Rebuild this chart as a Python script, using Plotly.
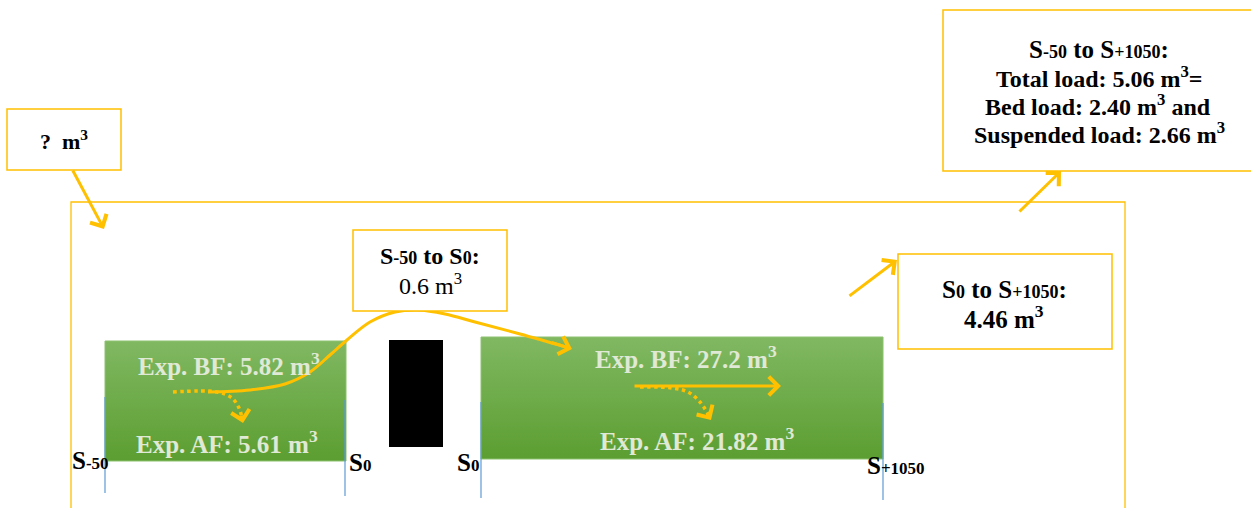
import plotly.graph_objects as go

# ---------------- data ----------------
station_names = ["-50", "0", "0", "+1050"]
reach_from_to = [("-50", "0"), ("0", "+1050")]
reach_loads = [0.6, 4.46]
exp_bf = [5.82, 27.2]
exp_af = [5.61, 21.82]
total_from_to = ("-50", "+1050")
total_load = 5.06
bed_load = 2.40
suspended_load = 2.66
unknown_label = "?"

# ---------------- styles / layout positions ----------------
ORANGE = "#FFC000"
GREEN_TOP = "#80b862"
GREEN_BOT = "#5c9e31"
EXP_TXT = "#e0e9d6"
BLUE = "#5b9bd5"
FONT = "Liberation Serif"
W, H = 1251, 508

reach_rects = [(105, 346, 341, 461), (481, 883, 337, 459)]
bf_pos = [(229, 364), (686, 357)]
af_pos = [(227, 442), (697, 439)]
station_pos = [(70, 460), (347, 462), (455, 462), (865, 465)]
station_lines = [(105, 397, 493), (345, 400, 496), (481, 402, 498), (883, 403, 500)]


def S(sub, size):
    return f'S<span style="font-size:{size}px">{sub}</span>'


def m3(size):
    return f'm<span style="font-size:{size}px"><sup>3</sup></span>'


fig = go.Figure()

# outer frame
fig.add_shape(type="path", path="M71,520 L71,202 L1125,202 L1125,520",
              line=dict(color=ORANGE, width=1.3), layer="below")

# green reach rectangles with vertical gradient
for (x0, x1, y0, y1) in reach_rects:
    fig.add_trace(go.Scatter(
        x=[x0, x1, x1, x0, x0], y=[y0, y0, y1, y1, y0],
        mode="lines", fill="toself",
        line=dict(color="#8dc16e", width=1),
        fillgradient=dict(type="vertical",
                          colorscale=[[0, GREEN_TOP], [1, GREEN_BOT]],
                          start=y0, stop=y1),
        hoverinfo="skip", showlegend=False))

# black block between reaches
fig.add_shape(type="rect", x0=389, x1=443, y0=340, y1=447,
              fillcolor="black", line=dict(width=0))

# station blue lines
for (x, y0, y1) in station_lines:
    fig.add_trace(go.Scatter(x=[x, x], y=[y0, y1], mode="lines",
                             line=dict(color=BLUE, width=1.2),
                             hoverinfo="skip", showlegend=False))

# boxes
boxes = [(7, 121, 109, 170), (353, 507, 230, 311), (943, 1260, 10, 171), (898, 1112, 254, 349)]
for (x0, x1, y0, y1) in boxes:
    fig.add_shape(type="rect", x0=x0, x1=x1, y0=y0, y1=y1,
                  line=dict(color=ORANGE, width=1.5), fillcolor="white")

# orange curves
main_curve = dict(x=[208, 250, 285, 310, 330, 347, 370, 395, 418, 445, 475, 520, 566],
                  y=[392, 390, 384, 372, 355, 340, 322, 312, 310, 314, 322, 334, 347])
fig.add_trace(go.Scatter(**main_curve, mode="lines", line=dict(color=ORANGE, width=3, shape="spline"),
                         hoverinfo="skip", showlegend=False))
dot1 = dict(x=[173, 217, 232, 239, 242], y=[392, 392, 398, 408, 418])
fig.add_trace(go.Scatter(**dot1, mode="lines", line=dict(color=ORANGE, width=3.5, dash="dot", shape="spline"),
                         hoverinfo="skip", showlegend=False))
dot2 = dict(x=[640, 672, 688, 700, 708], y=[387, 388, 392, 402, 414])
fig.add_trace(go.Scatter(**dot2, mode="lines", line=dict(color=ORANGE, width=3.5, dash="dot", shape="spline"),
                         hoverinfo="skip", showlegend=False))

# arrows (tail -> tip)
arrows = [((72, 169), (104, 229)),
          ((1018, 213), (1061, 171)),
          ((848, 297), (897, 260)),
          ((633, 386), (781, 386)),
          ((550, 342), (572, 349)),
          ((241, 414), (243, 423)),
          ((706, 412), (711, 420))]
for (tx, ty), (hx, hy) in arrows:
    fig.add_annotation(x=hx, y=hy, ax=tx, ay=ty, xref="x", yref="y", axref="x", ayref="y",
                       text="", showarrow=True, arrowhead=4, arrowsize=1.2, arrowwidth=3,
                       arrowcolor=ORANGE, standoff=0, startstandoff=0)


def txt(x, y, s, size, color="black", xanchor="center"):
    fig.add_annotation(x=x, y=y, xref="x", yref="y", text=s, showarrow=False,
                       xanchor=xanchor, yanchor="middle",
                       font=dict(family=FONT, size=size, color=color))


# exp labels
for i in range(2):
    txt(bf_pos[i][0], bf_pos[i][1], f"<b>Exp. BF: {exp_bf[i]:g} m<sup>3</sup></b>", 25, EXP_TXT)
    txt(af_pos[i][0], af_pos[i][1], f"<b>Exp. AF: {exp_af[i]:g} m<sup>3</sup></b>", 25, EXP_TXT)

# station labels
for (x, y), s in zip(station_pos, station_names):
    txt(x, y, f"<b>{S(s, 17)}</b>", 25, xanchor="left")

# ? box
txt(64, 140, f"<b>{unknown_label}  m<sup>3</sup></b>", 22)
# middle box
a, b = reach_from_to[0]
txt(430, 256, f"<b>{S(a, 18)} to {S(b, 18)}:</b>", 24)
txt(430, 284, f"{reach_loads[0]:g} m<sup>3</sup>", 24)
# right reach box
a, b = reach_from_to[1]
txt(1004, 289, f"<b>{S(a, 18)} to {S(b, 18)}:</b>", 25)
txt(1004, 317, f"<b>{reach_loads[1]:g} m<sup>3</sup></b>", 25)
# top right box
a, b = total_from_to
txt(1099, 49, f"<b>{S(a, 18)} to {S(b, 18)}:</b>", 25)
txt(1099, 77, f"<b>Total load: {total_load:.2f} m<sup>3</sup>=</b>", 24)
txt(1098, 105, f"<b>Bed load: {bed_load:.2f} m<sup>3</sup> and</b>", 24)
txt(1099, 133, f"<b>Suspended load: {suspended_load:.2f} m<sup>3</sup></b>", 24)

fig.update_xaxes(range=[0, W], visible=False, fixedrange=True)
fig.update_yaxes(range=[H, 0], visible=False, fixedrange=True)
fig.update_layout(width=W, height=H, margin=dict(l=0, r=0, t=0, b=0),
                  plot_bgcolor="white", paper_bgcolor="white",
                  showlegend=False, hovermode=False)
fig.write_html("out.html", config={"displayModeBar": False},
               post_script="document.body.style.margin='0px';")
